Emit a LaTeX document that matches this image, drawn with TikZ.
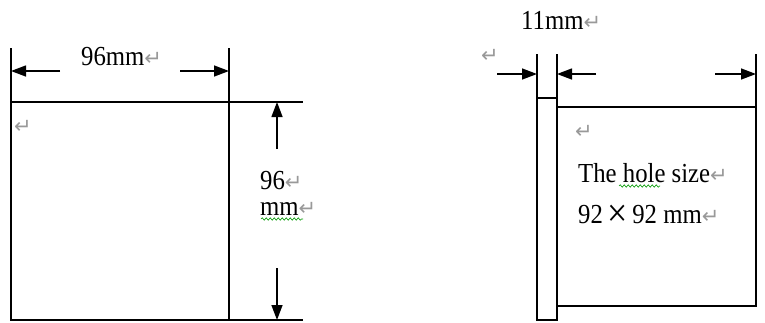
\documentclass[tikz,border=0pt]{standalone}
\usepackage{fontspec}
\usepackage{graphicx}
\setmainfont[FakeStretch=0.9]{Liberation Serif}
\newfontfamily\symfont{DejaVu Sans}
\usetikzlibrary{arrows.meta,decorations.pathmorphing}
\tikzset{
  edge/.style={line width=1.4pt, line cap=rect},
  dimarrow/.style={line width=1.4pt, -{Triangle[length=15pt,width=11pt]}},
  lbl/.style={anchor=base west, inner sep=0pt, font=\fontsize{27.5}{30}\selectfont},
  ret/.style={inner sep=0pt, text=gray!80, font=\symfont\fontsize{21}{22}\selectfont},
  spell/.style={green!60!black, line width=0.6pt, decorate, decoration={snake, amplitude=1.2pt, segment length=4pt}}
}
\newcommand{\rsym}{{\color{gray!80}\symfont\fontsize{21}{22}\selectfont ↵}}
\newcommand{\bigtimes}{\raisebox{-3.5pt}{\scalebox{1.45}{×}}}
\begin{document}
\begin{tikzpicture}[x=1pt,y=-1pt]
\useasboundingbox (0,0) rectangle (765,322);
% left diagram coordinates
\coordinate (LT) at (11,49);
\coordinate (LB) at (11,320);
\coordinate (RT) at (229,49);
\coordinate (RB) at (229,320);
\coordinate (TopL) at (11,102);
\coordinate (TopR) at (302,102);
\coordinate (BotL) at (11,320);
\coordinate (BotR) at (302,320);
\draw[edge] (LT) -- (LB);
\draw[edge] (RT) -- (RB);
\draw[edge] (TopL) -- (TopR);
\draw[edge] (BotL) -- (BotR);
% horizontal dimension
\coordinate (ha1) at (60,71);
\coordinate (ha1e) at (11,71);
\coordinate (ha2) at (180,71);
\coordinate (ha2e) at (229,71);
\draw[dimarrow] (ha1) -- (ha1e);
\draw[dimarrow] (ha2) -- (ha2e);
\node[lbl] (w96) at (81,65) {96mm\rsym};
% vertical dimension
\coordinate (va1) at (277,149);
\coordinate (va1e) at (277,102);
\coordinate (va2) at (277,268);
\coordinate (va2e) at (277,320);
\draw[dimarrow] (va1) -- (va1e);
\draw[dimarrow] (va2) -- (va2e);
\node[lbl] (h96) at (260,189) {96\rsym};
\node[lbl] (hmm) at (260,215) {mm\rsym};
\draw[spell] (261,219) -- (303,219);
\node[ret] (r1) at (23,127) {↵};
% right diagram
\coordinate (s1t) at (537,55);
\coordinate (s1b) at (537,320);
\coordinate (s2t) at (557,55);
\coordinate (s2b) at (557,320);
\coordinate (b3t) at (756,55);
\coordinate (b3b) at (756,306);
\draw[edge] (s1t) -- (s1b);
\draw[edge] (s2t) -- (s2b);
\draw[edge] (b3t) -- (b3b);
\coordinate (stripTop1) at (537,98);
\coordinate (stripTop2) at (557,98);
\draw[edge] (stripTop1) -- (stripTop2);
\draw[edge] (s1b) -- (s2b);
\coordinate (boxT1) at (557,107);
\coordinate (boxT2) at (756,107);
\draw[edge] (boxT1) -- (boxT2);
\coordinate (boxB1) at (557,306);
\draw[edge] (boxB1) -- (b3b);
\coordinate (ra1) at (497,74);
\coordinate (ra1e) at (537,74);
\coordinate (ra2) at (596,74);
\coordinate (ra2e) at (557,74);
\coordinate (ra3) at (715,74);
\coordinate (ra3e) at (756,74);
\draw[dimarrow] (ra1) -- (ra1e);
\draw[dimarrow] (ra2) -- (ra2e);
\draw[dimarrow] (ra3) -- (ra3e);
\node[lbl] (w11) at (521,29) {11mm\rsym};
\node[ret] (r2) at (490,56) {↵};
\node[ret] (r3) at (584,132) {↵};
\node[lbl] (hole) at (578,182) {The hole size\rsym};
\draw[spell] (619,186) -- (660,186);
\node[lbl] (size) at (578,223) {92\,\bigtimes\,92 mm\rsym};
\end{tikzpicture}
\end{document}
